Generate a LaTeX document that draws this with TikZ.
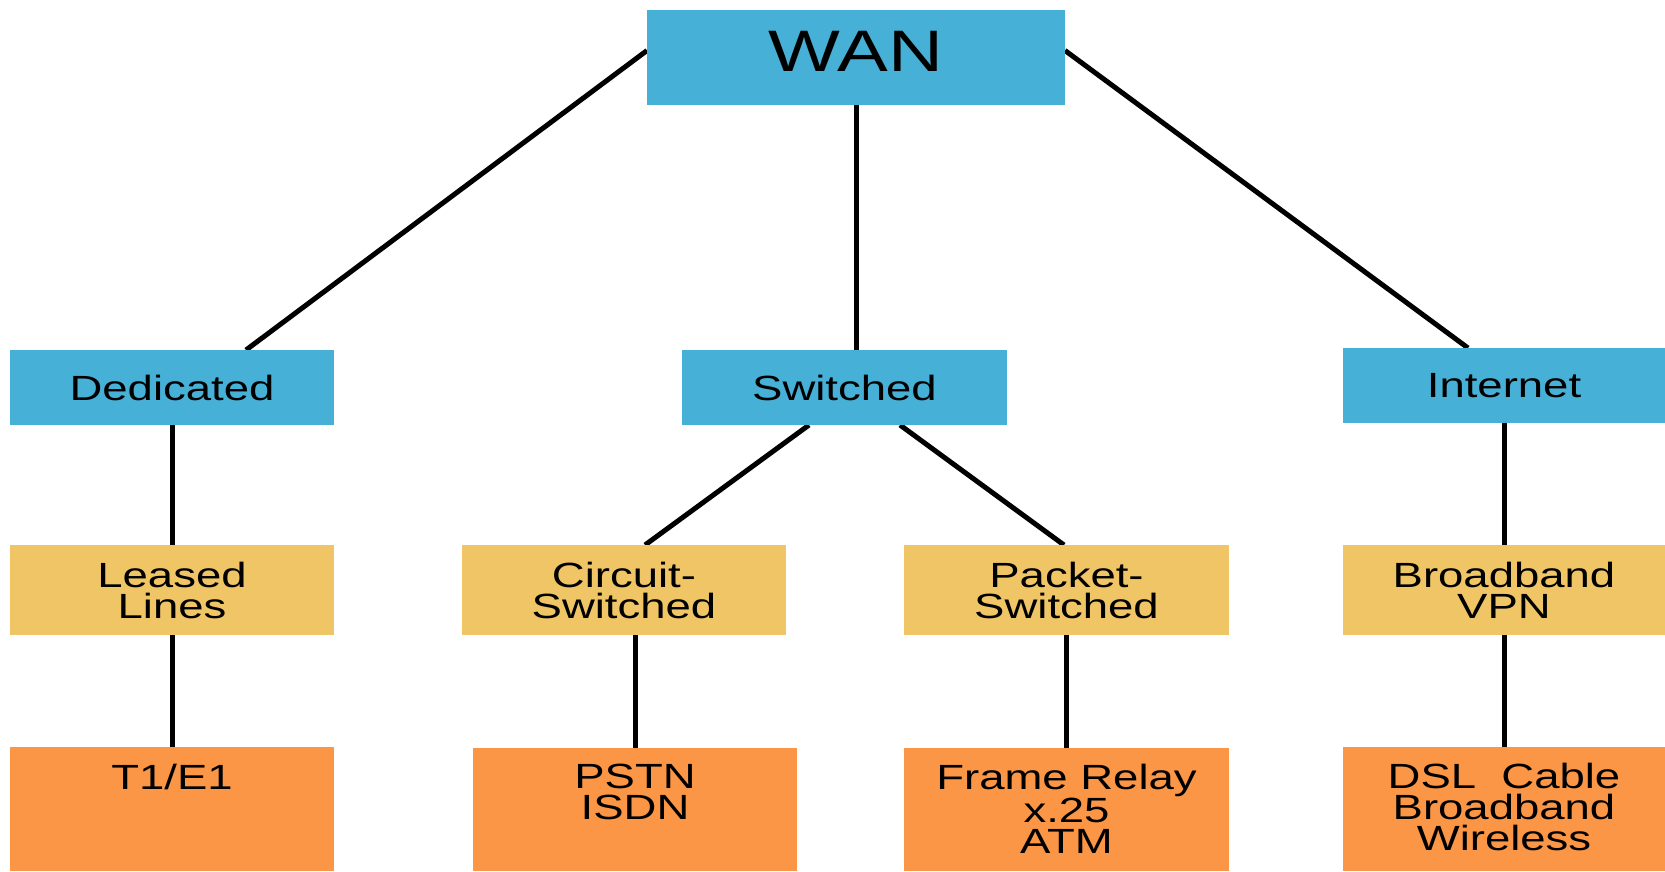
\documentclass[tikz,border=0pt]{standalone}
\usepackage{fontspec}
\setmainfont{Liberation Sans}[FakeStretch=1.3]
\usetikzlibrary{calc,backgrounds}
\definecolor{wblue}{HTML}{46B0D6}
\definecolor{wyellow}{HTML}{EFC566}
\definecolor{worange}{HTML}{FB9646}
\begin{document}
\begin{tikzpicture}[x=1pt,y=-1pt,
  box/.style={rectangle, inner sep=0pt, outer sep=0pt, align=center, text=black,
              font=\fontsize{35}{31}\selectfont},
  bluebox/.style={box, fill=wblue, minimum height=75pt},
  yellowbox/.style={box, fill=wyellow, minimum height=90pt},
  orangebox/.style={box, fill=worange},
  lbl/.style={inner sep=0pt, align=center, text=black, anchor=north,
              font=\fontsize{35}{31}\selectfont},
  link/.style={line width=5pt, draw=black}]
\useasboundingbox (0,0) rectangle (1665,871);

% level 0
\node[bluebox, minimum width=418pt, minimum height=95pt,
      font=\fontsize{58.5}{60}\selectfont, text depth=12pt] (wan) at (856,57.5) {WAN};

% level 1
\node[bluebox, minimum width=324pt] (ded)  at (172,387.5)  {Dedicated};
\node[bluebox, minimum width=325pt] (sw)   at (844.5,387.5) {Switched};
\node[bluebox, minimum width=322pt] (inet) at (1504,385.5) {Internet};

% level 2
\node[yellowbox, minimum width=324pt] (leased) at (172,590)    {Leased\\Lines};
\node[yellowbox, minimum width=324pt] (circ)   at (624,590)    {Circuit-\\Switched};
\node[yellowbox, minimum width=325pt] (pack)   at (1066.5,590) {Packet-\\Switched};
\node[yellowbox, minimum width=322pt] (bvpn)   at (1504,590)   {Broadband\\VPN};

% level 3
\node[orangebox, minimum width=324pt, minimum height=124pt] (t1)    at (172,809)      {};
\node[orangebox, minimum width=324pt, minimum height=123pt] (pstn)  at (635,809.5)    {};
\node[orangebox, minimum width=325pt, minimum height=123pt] (frame) at (1066.5,809.5) {};
\node[orangebox, minimum width=322pt, minimum height=124pt] (dsl)   at (1504,809)     {};

\node[lbl] (t1txt)    at ([yshift=-17pt]t1.north)    {T1/E1};
\node[lbl] (pstntxt)  at ([yshift=-16pt]pstn.north)  {PSTN\\ISDN};
\node[lbl] (frametxt) at ([yshift=-16pt]frame.north) {Frame Relay\\x.25\\ATM};
\node[lbl] (dsltxt)   at ([yshift=-16pt]dsl.north)   {DSL\ \ Cable\\Broadband\\Wireless};

\begin{scope}[on background layer]
  \fill[white] (0,0) rectangle (1665,871);
  \draw[link] ([yshift=7pt]wan.west) -- ([xshift=74pt]ded.north);
  \draw[link] (wan.south) -- (wan.south |- sw.north);
  \draw[link] ([yshift=7pt]wan.east) -- ([xshift=-36pt]inet.north);
  \draw[link] (ded.south) -- (leased.north);
  \draw[link] ([xshift=-35.5pt]sw.south) -- ([xshift=21pt]circ.north);
  \draw[link] ([xshift=55.5pt]sw.south) -- ([xshift=-2.5pt]pack.north);
  \draw[link] (inet.south) -- (bvpn.north);
  \draw[link] (leased.south) -- (t1.north);
  \draw[link] (pstn.north |- circ.south) -- (pstn.north);
  \draw[link] (pack.south) -- (frame.north);
  \draw[link] (bvpn.south) -- (dsl.north);
\end{scope}
\end{tikzpicture}
\end{document}
